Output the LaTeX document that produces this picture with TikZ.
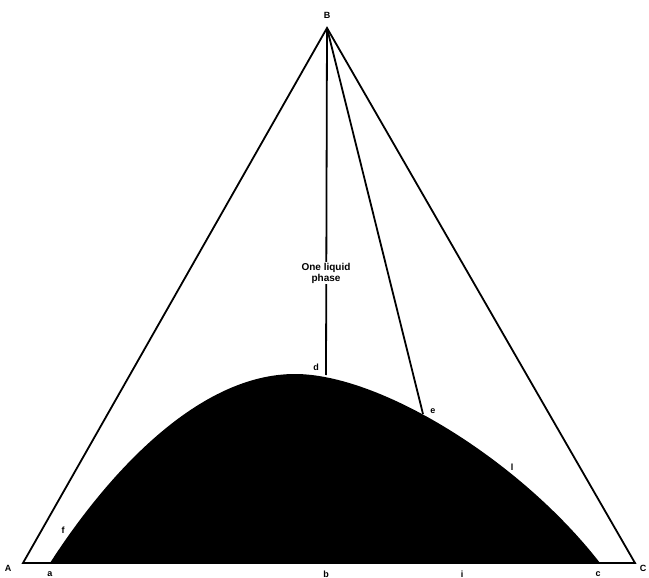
\documentclass[tikz,border=0pt]{standalone}
\usepackage{fontspec}
\setmainfont{Liberation Sans}
\begin{document}
\begin{tikzpicture}[x=1pt,y=-1pt,
  edge/.style={line width=1.8pt},
  lbl/.style={font=\bfseries\fontsize{9}{10}\selectfont, inner sep=1pt},
  phasetxt/.style={font=\bfseries\fontsize{10}{11}\selectfont, align=center, fill=white, inner sep=1pt}]
\useasboundingbox (0,0) rectangle (649,578);
% vertices
\coordinate (A) at (23,563);
\coordinate (B) at (327,28);
\coordinate (C) at (635,563);
\coordinate (d) at (326,375);
\coordinate (e) at (423,414);
% black two-phase region
\fill[black] (50,563) .. controls (110,470) and (200,374) .. (295,374)
  .. controls (380,374) and (520,460) .. (600,563) -- cycle;
% triangle
\draw[edge] (A) -- (B) -- (C) -- cycle;
% lines from B
\draw[edge] (B) -- (d);
\draw[edge] (B) -- (e);
\node[phasetxt] (txt) at (326,273) {One liquid\\phase};
% labels
\node[lbl] (lB) at (327,15) {B};
\node[lbl] (lA) at (8,568) {A};
\node[lbl] (lC) at (643,568) {C};
\node[lbl] (la) at (50,574) {a};
\node[lbl] (lb) at (326,574) {b};
\node[lbl] (li) at (462,574) {i};
\node[lbl] (lc) at (598,574) {c};
\node[lbl] (ld) at (316,367) {d};
\node[lbl] (le) at (433,411) {e};
\node[lbl] (lf) at (63,530) {f};
\node[lbl] (ll) at (512,467) {l};
\end{tikzpicture}
\end{document}
